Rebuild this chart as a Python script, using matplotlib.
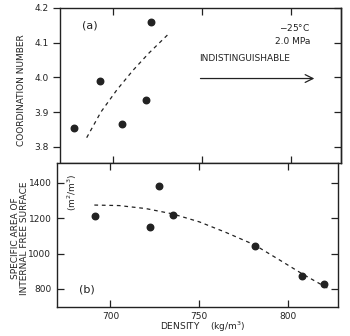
import numpy as np
import matplotlib.pyplot as plt

# (a) coordination number
dens_a = [678, 692.7, 705, 718.5, 721]
coord_a = [3.854, 3.99, 3.865, 3.935, 4.16]
fit_a_x = [685, 693, 702, 711, 720, 731]
fit_a_y = [3.826, 3.90, 3.964, 4.02, 4.07, 4.125]

# (b) specific area of internal free surface
dens_b = [691.6, 722.5, 727.5, 735, 781.5, 808, 820]
area_b = [1212, 1148, 1380, 1220, 1043, 872, 830]
fit_b_x = [691, 705, 720, 735, 750, 765, 781, 795, 808, 823]
fit_b_y = [1275, 1272, 1255, 1225, 1180, 1120, 1050, 965, 885, 800]

xticks = [700, 750, 800]
yticks_a = [3.8, 3.9, 4.0, 4.1, 4.2]
yticks_b = [800, 1000, 1200, 1400]

W, H = 350, 336
fig = plt.figure(figsize=(3.5, 3.36), dpi=100)
fs = 6.5
ink = '#222222'

ax1 = fig.add_axes([60 / W, 1 - 163 / H, 281 / W, 155 / H])
ax2 = fig.add_axes([57 / W, 1 - 307 / H, 281 / W, 144 / H])

for ax in (ax1, ax2):
    ax.set_xlim(670, 828)
    ax.set_xticks(xticks)
    for s in ax.spines.values():
        s.set_linewidth(1.0)
        s.set_color(ink)
    ax.tick_params(axis='x', direction='in', top=True, length=5, width=0.9,
                   labelsize=fs, colors=ink)
    ax.tick_params(axis='y', length=5, width=0.9, labelsize=fs, colors=ink)

# panel (a): left ticks point out, right ticks point in
ax1.scatter(dens_a, coord_a, s=22, color=ink, zorder=3)
ax1.plot(fit_a_x, fit_a_y, '--', color=ink, lw=0.9, dashes=(3, 3))
ax1.set_ylim(3.753, 4.2)
ax1.set_yticks(yticks_a)
ax1.set_yticklabels([f'{v:.1f}' for v in yticks_a])
ax1.tick_params(axis='y', direction='out', right=False, pad=3)
ax1.tick_params(axis='x', labelbottom=False)
sec1 = ax1.secondary_yaxis('right')
sec1.set_yticks(yticks_a)
sec1.tick_params(direction='in', length=5, width=0.9, labelright=False, colors=ink)
sec1.spines['right'].set_linewidth(1.0)
sec1.spines['right'].set_color(ink)

ax1.text(0.08, 0.87, '(a)', transform=ax1.transAxes, fontsize=8, color=ink)
ax1.text(0.89, 0.85, '$-25\\degree$C', transform=ax1.transAxes, fontsize=fs,
         ha='right', color=ink)
ax1.text(0.89, 0.77, '2.0 MPa', transform=ax1.transAxes, fontsize=fs,
         ha='right', color=ink)
ax1.text(0.495, 0.66, 'INDISTINGUISHABLE', transform=ax1.transAxes, fontsize=fs,
         color=ink)
ax1.annotate('', xy=(0.915, 0.545), xytext=(0.49, 0.545), xycoords='axes fraction',
             arrowprops=dict(arrowstyle='->', color=ink, lw=0.9, mutation_scale=14))

# panel (b): ticks point in on both sides
ax2.scatter(dens_b, area_b, s=22, color=ink, zorder=3)
ax2.plot(fit_b_x, fit_b_y, '--', color=ink, lw=0.9, dashes=(3, 3))
ax2.set_ylim(698, 1513)
ax2.set_yticks(yticks_b)
ax2.tick_params(axis='y', direction='in', right=True, pad=4)
ax2.text(0.08, 0.1, '(b)', transform=ax2.transAxes, fontsize=8, color=ink)
ax2.text(0.055, 0.8, '(m$^2$/m$^3$)', transform=ax2.transAxes, fontsize=fs,
         rotation=90, ha='center', va='center', color=ink)

fig.text(22 / W, 1 - 90 / H, 'COORDINATION NUMBER', rotation=90, fontsize=fs,
         ha='center', va='center', color=ink)
fig.text(20 / W, 1 - 238 / H, 'SPECIFIC AREA OF\nINTERNAL FREE SURFACE', rotation=90,
         fontsize=fs, ha='center', va='center', color=ink, linespacing=0.95)
fig.text(203 / W, 1 - 327 / H, 'DENSITY    (kg/m$^3$)', fontsize=fs,
         ha='center', va='center', color=ink)

fig.savefig('out.png', dpi=100)
